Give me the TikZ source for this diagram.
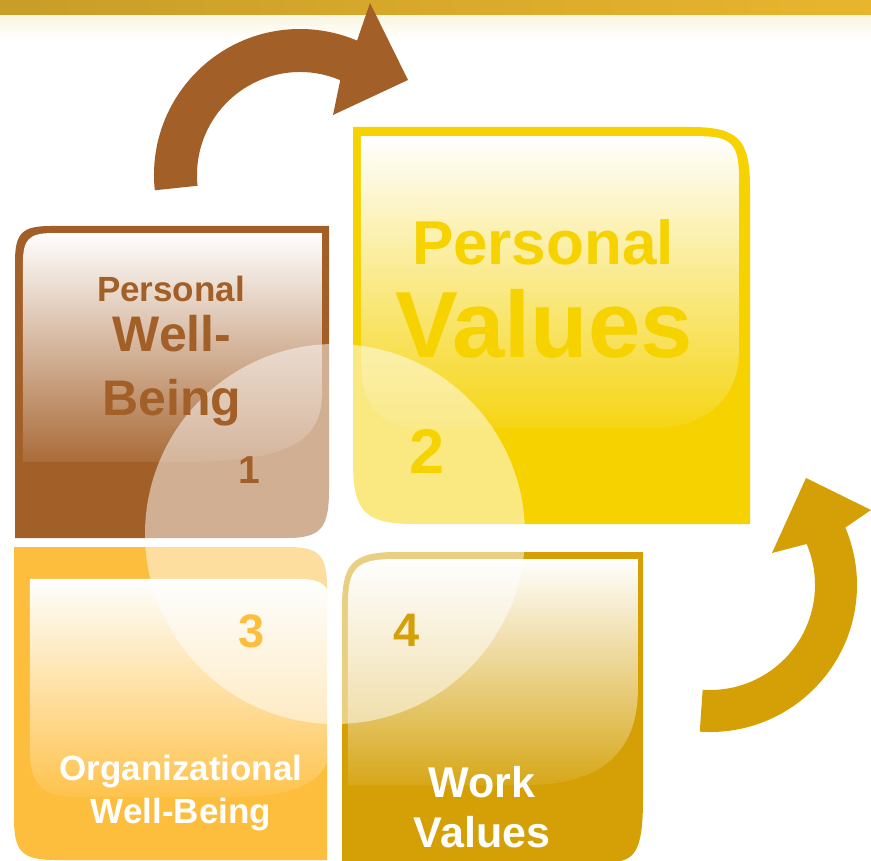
\documentclass[tikz,border=0pt]{standalone}
\usepackage{fontspec}
\setmainfont{Liberation Sans}
\usepackage{tikz}
\usetikzlibrary{fadings}
\definecolor{WellBrown}{RGB}{163,95,40}
\definecolor{ValueYellow}{RGB}{245,210,0}
\definecolor{OrgOrange}{RGB}{254,190,61}
\definecolor{WorkGold}{RGB}{212,160,6}
\definecolor{BarLeft}{RGB}{200,157,40}
\definecolor{BarRight}{RGB}{232,181,45}
\definecolor{BarGlow}{RGB}{251,246,226}

\tikzfading[name=gloss fade, top color=transparent!0, middle color=transparent!35, bottom color=transparent!92]

\begin{document}
\begin{tikzpicture}[
    x=1pt, y=-1pt,
    gloss/.style={fill=white, path fading=gloss fade},
    lens/.style={fill=white, opacity=0.5},
    txt/.style={inner sep=0pt, anchor=base, font=\bfseries\fontsize{#1}{#1}\selectfont},
]
\useasboundingbox (0,0) rectangle (871,861);
\fill[white] (0,0) rectangle (871,861);

% header strip
\fill[left color=BarLeft, right color=BarRight] (0,0) rectangle (871,16);
\fill[top color=BarGlow, bottom color=white] (0,16) rectangle (871,40);

% 1 - personal well-being
\fill[WellBrown] (15,538) -- (15,262) .. controls (15,233) and (22,226) .. (51,226) -- (329,226)
  -- (329,490) .. controls (329,528) and (321,538) .. (287,538) -- cycle;
\fill[gloss] (23,462) -- (23,263) .. controls (23,239) and (29,233) .. (53,233) -- (322,233)
  -- (322,395) .. controls (322,445) and (280,462) .. (180,462) -- cycle;

% 2 - personal values
\fill[ValueYellow] (353,127) -- (690,127) .. controls (738,127) and (750,139) .. (750,187)
  -- (750,524) -- (415,524) .. controls (365,524) and (353,512) .. (353,462) -- cycle;
\fill[gloss] (361,136) -- (699,136) .. controls (731,136) and (739,144) .. (739,176)
  -- (739,353) .. controls (739,398) and (705,428) .. (654,428)
  -- (423,428) .. controls (380,428) and (361,408) .. (361,360) -- cycle;

% 3 - organizational well-being
\fill[OrgOrange] (14,547) -- (287,547) .. controls (319,547) and (327,555) .. (327,587)
  -- (327,860) -- (56,860) .. controls (22,860) and (14,852) .. (14,818) -- cycle;
\fill[gloss] (30,579) -- (297,579) .. controls (325,579) and (331,586) .. (331,614)
  -- (331,742) .. controls (331,780) and (300,797) .. (232,797)
  -- (75,797) .. controls (43,797) and (30,784) .. (30,752) -- cycle;

% 4 - work values
\fill[WorkGold] (342,862) -- (342,607) .. controls (342,563) and (353,552) .. (397,552) -- (643,552)
  -- (643,798) .. controls (643,849) and (636,862) .. (610,862) -- cycle;
\fill[gloss] (348,785) -- (348,604) .. controls (348,568) and (357,559) .. (393,559) -- (638,559)
  -- (638,690) .. controls (638,752) and (600,785) .. (528,785) -- cycle;

% centre lens
\coordinate (mid) at (335,534);
\fill[lens] (mid) circle[radius=190];

% labels
\node[txt=35, text=WellBrown] (pwb1) at (171,302) {Personal};
\node[txt=50, text=WellBrown] (pwb2) at (172,352) {Well-};
\node[txt=50, text=WellBrown] (pwb3) at (172,415) {Being};
\node[txt=39, text=WellBrown] (n1) at (249,483) {1};

\node[txt=62, text=ValueYellow] (pv1) at (543,265) {Personal};
\node[txt=94, text=ValueYellow] (pv2) at (544,357) {Values};
\node[txt=63, text=ValueYellow] (n2) at (427,473) {2};

\node[txt=47, text=OrgOrange] (n3) at (252,647) {3};
\node[txt=35, text=white] (owb1) at (181,780) {Organizational};
\node[txt=35, text=white] (owb2) at (181,823) {Well-Being};

\node[txt=47, text=WorkGold] (n4) at (407,646) {4};
\node[txt=43, text=white] (wv1) at (482,797) {Work};
\node[txt=43, text=white] (wv2) at (482,847) {Values};

% curved arrows
\coordinate (turnA) at (300,175);
\coordinate (turnB) at (710,585);
\fill[WellBrown] (turnA) ++(174:146) arc[start angle=174, end angle=293, radius=146]
  -- (370,3) -- (408,80) -- (333,115)
  -- ([shift={(293:103)}]turnA) arc[start angle=293, end angle=174, radius=103] -- cycle;
\fill[WorkGold] (turnB) ++(94:147) arc[start angle=94, end angle=-23, radius=147]
  -- (871,510) -- (806,478) -- (772,553)
  -- ([shift={(-23:105)}]turnB) arc[start angle=-23, end angle=94, radius=105] -- cycle;
\end{tikzpicture}
\end{document}
